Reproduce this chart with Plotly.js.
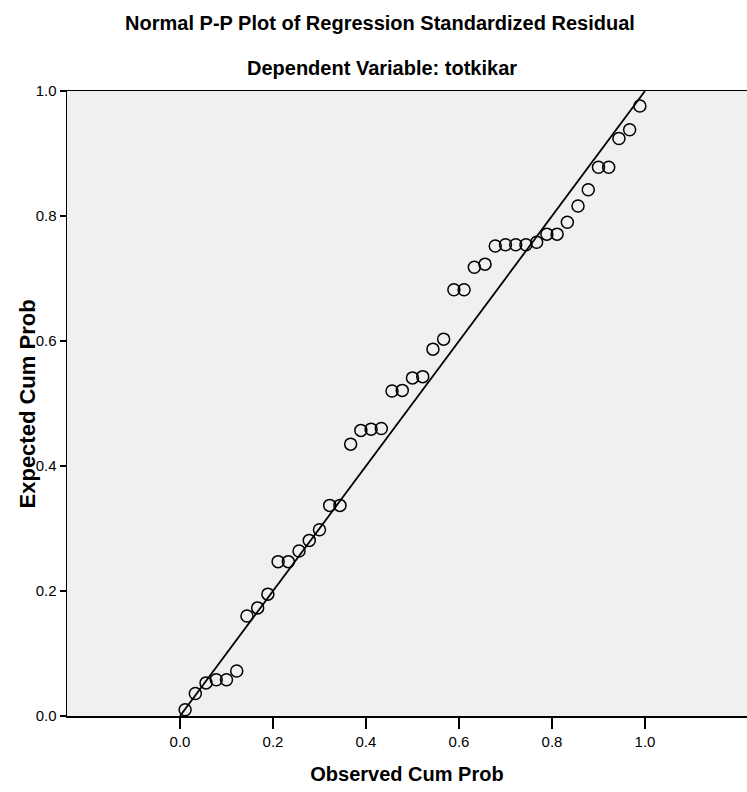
<!DOCTYPE html>
<html>
<head>
<meta charset="utf-8">
<script src="https://cdn.plot.ly/plotly-3.0.1.min.js"></script>
<style>html,body{margin:0;padding:0;background:#fff;}#chart{width:747px;height:792px;}</style>
</head>
<body>
<div id="chart"></div>
<script>
// Observed cumulative probability (x) and expected cumulative probability (y)
var observedCumProb = [0.011, 0.033, 0.056, 0.078, 0.100, 0.122, 0.144, 0.167, 0.189, 0.211,
  0.233, 0.256, 0.278, 0.300, 0.322, 0.344, 0.367, 0.389, 0.411, 0.433,
  0.456, 0.478, 0.500, 0.522, 0.544, 0.567, 0.589, 0.611, 0.633, 0.656,
  0.678, 0.700, 0.722, 0.744, 0.767, 0.789, 0.811, 0.833, 0.856, 0.878,
  0.900, 0.922, 0.944, 0.967, 0.989];
var expectedCumProb = [0.010, 0.036, 0.053, 0.058, 0.058, 0.072, 0.160, 0.173, 0.195, 0.247,
  0.247, 0.264, 0.281, 0.298, 0.337, 0.337, 0.435, 0.457, 0.459, 0.460,
  0.520, 0.521, 0.541, 0.543, 0.587, 0.603, 0.682, 0.682, 0.718, 0.723,
  0.752, 0.754, 0.754, 0.754, 0.758, 0.771, 0.771, 0.790, 0.816, 0.842,
  0.878, 0.878, 0.924, 0.938, 0.976];
var refLineX = [0, 1];
var refLineY = [0, 1];
var tickVals = [0, 0.2, 0.4, 0.6, 0.8, 1.0];
var tickLabels = ['0.0', '0.2', '0.4', '0.6', '0.8', '1.0'];

var font = 'Liberation Sans, Arial, sans-serif';

var traces = [
  {
    x: refLineX, y: refLineY, type: 'scatter', mode: 'lines',
    line: {color: '#000000', width: 1.8}, hoverinfo: 'skip', showlegend: false
  },
  {
    x: observedCumProb, y: expectedCumProb, type: 'scatter', mode: 'markers',
    marker: {symbol: 'circle-open', size: 12, color: '#000000', line: {width: 1.5, color: '#000000'}},
    showlegend: false
  }
];

var layout = {
  width: 747, height: 792,
  margin: {l: 67, r: 0, t: 91, b: 76},
  paper_bgcolor: '#ffffff',
  plot_bgcolor: '#f0f0f0',
  title: {
    text: '<b>Normal P-P Plot of Regression Standardized Residual</b>',
    font: {family: font, size: 20, color: '#000000'},
    x: 0.5087, xanchor: 'center', xref: 'container',
    y: 0.971, yanchor: 'middle', yref: 'container'
  },
  annotations: [{
    text: '<b>Dependent Variable: totkikar</b>',
    xref: 'paper', yref: 'paper', x: 0.463, y: 1.0368,
    xanchor: 'center', yanchor: 'middle', showarrow: false,
    font: {family: font, size: 20, color: '#000000'}
  }, {
    text: '<b>Expected Cum Prob</b>',
    xref: 'paper', yref: 'paper', x: -0.0574, y: 0.50,
    xanchor: 'center', yanchor: 'middle', showarrow: false, textangle: -90,
    font: {family: font, size: 22, color: '#000000'}
  }],
  xaxis: {
    range: [-0.243, 1.2194],
    tickvals: tickVals, ticktext: tickLabels,
    ticks: 'outside', ticklen: 11, tickwidth: 1.5, tickcolor: '#000000',
    tickfont: {family: font, size: 15, color: '#000000'},
    showgrid: false, zeroline: false,
    showline: true, linecolor: '#000000', linewidth: 1.5, mirror: true,
    title: {text: '<b>Observed Cum Prob</b>', font: {family: font, size: 20, color: '#000000'}, standoff: 18}
  },
  yaxis: {
    range: [0, 1],
    tickvals: tickVals, ticktext: tickLabels,
    ticks: 'outside', ticklen: 6, tickwidth: 1.5, tickcolor: '#000000',
    tickfont: {family: font, size: 15, color: '#000000'},
    showgrid: false, zeroline: false,
    showline: true, linecolor: '#000000', linewidth: 1.5, mirror: true
  }
};

Plotly.newPlot('chart', traces, layout, {displayModeBar: false, staticPlot: true});
</script>
</body>
</html>
